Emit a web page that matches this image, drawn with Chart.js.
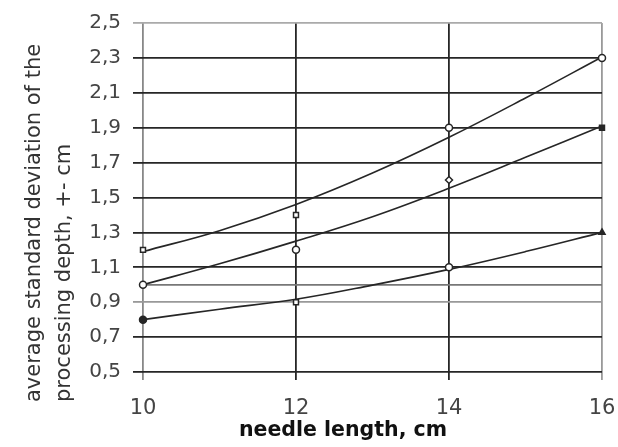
<!DOCTYPE html>
<html>
<head>
<meta charset="utf-8">
<script src="https://cdn.jsdelivr.net/npm/chart.js@4/dist/chart.umd.min.js"></script>
<style>
  html, body { margin: 0; padding: 0; background: #fff; }
  canvas { display: block; }
</style>
</head>
<body>
<canvas id="chart" width="618" height="447"></canvas>
<script>
const needleLength = [10, 12, 14, 16];

// measured points
const seriesTop = [1.2, 1.4, 1.9, 2.3];
const seriesMid = [1.0, 1.2, 1.6, 1.9];
const seriesLow = [0.8, 0.9, 1.1, 1.3];

// trend curves, every 1 cm
const trendLength = [10, 11, 12, 13, 14, 15, 16];
const trendTop = [1.19, 1.31, 1.46, 1.64, 1.845, 2.07, 2.305];
const trendMid = [1.0, 1.12, 1.25, 1.39, 1.553, 1.73, 1.91];
const trendLow = [0.8, 0.86, 0.917, 0.998, 1.088, 1.19, 1.30];

const xTicks = [10, 12, 14, 16];
const yTicks = [0.5, 0.7, 0.9, 1.1, 1.3, 1.5, 1.7, 1.9, 2.1, 2.3, 2.5];
const yExtraLine = 1.0;

const yTitle = ["average standard deviation of the", "processing depth, +- cm"];
const xTitle = "needle length, cm";

const pts = (xs, ys) => xs.map((x, i) => ({ x: x, y: ys[i] }));

const DARK = "#262626";

function markers(ys, styles, fills) {
    return {
        data: pts(needleLength, ys),
        showLine: false,
        pointStyle: styles,
        pointRadius: 3.5,
        pointBorderWidth: 1.5,
        pointBorderColor: DARK,
        pointBackgroundColor: fills,
        clip: false
    };
}

function trend(ys) {
    return {
        data: pts(trendLength, ys),
        borderColor: DARK,
        borderWidth: 1.6,
        pointRadius: 0,
        tension: 0.4,
        clip: false
    };
}

// axis titles drawn as text beside the plot
const axisTitles = {
    id: "axisTitles",
    afterDraw(chart) {
        const c = chart.ctx;
        c.save();
        c.fillStyle = "#333";
        c.font = "21px 'DejaVu Sans'";
        c.textAlign = "left";
        c.textBaseline = "alphabetic";
        c.translate(0, 402);
        c.rotate(-Math.PI / 2);
        c.fillText(yTitle[0], 0, 40);
        c.fillText(yTitle[1], 0, 70);
        c.restore();

        c.save();
        c.fillStyle = "#111";
        c.font = "bold 20.5px 'DejaVu Sans'";
        c.textAlign = "center";
        c.textBaseline = "alphabetic";
        c.fillText(xTitle, 343, 436);
        c.restore();
    }
};

function yLineColor(v) {
    if (v === 2.5) return "#aaa";
    if (v === yExtraLine) return "#777";
    if (v === 0.9) return "#999";
    return DARK;
}

function xLineColor(v) {
    if (v === 10) return "#888";
    if (v === 16) return "#999";
    return DARK;
}

new Chart(document.getElementById("chart"), {
    type: "line",
    data: {
        datasets: [
            markers(seriesTop, ["rect", "rect", "circle", "circle"], ["#fff", "#fff", "#fff", "#fff"]),
            markers(seriesMid, ["circle", "circle", "rectRot", "rect"], ["#fff", "#fff", "#fff", DARK]),
            markers(seriesLow, ["circle", "rect", "circle", "triangle"], [DARK, "#fff", "#fff", DARK]),
            trend(trendTop),
            trend(trendMid),
            trend(trendLow)
        ]
    },
    options: {
        responsive: false,
        animation: false,
        layout: { padding: { top: 23, right: 16, bottom: 0, left: 0 } },
        plugins: {
            legend: { display: false },
            tooltip: { enabled: false }
        },
        scales: {
            x: {
                type: "linear",
                min: 10,
                max: 16,
                afterBuildTicks: scale => { scale.ticks = xTicks.map(v => ({ value: v })); },
                afterFit: scale => {
                    scale.height = 75;
                    scale.paddingLeft = 0;
                    scale.paddingRight = 0;
                },
                border: { display: false },
                grid: {
                    color: ctx => xLineColor(ctx.tick.value),
                    tickColor: ctx => xLineColor(ctx.tick.value),
                    lineWidth: 1.8,
                    tickLength: 8
                },
                ticks: {
                    color: "#444",
                    font: { family: "DejaVu Sans", size: 21 },
                    padding: 16,
                    maxRotation: 0
                }
            },
            y: {
                min: 0.5,
                max: 2.5,
                afterBuildTicks: scale => {
                    scale.ticks = yTicks.concat([yExtraLine]).sort((a, b) => a - b).map(v => ({ value: v }));
                },
                afterFit: scale => {
                    scale.width = 143;
                    scale.paddingTop = 0;
                    scale.paddingBottom = 0;
                },
                border: { display: false },
                grid: {
                    color: ctx => yLineColor(ctx.tick.value),
                    tickColor: ctx => ctx.tick.value === yExtraLine ? "rgba(0,0,0,0)" : yLineColor(ctx.tick.value),
                    lineWidth: 1.8,
                    tickLength: 10
                },
                ticks: {
                    color: "#444",
                    font: { family: "DejaVu Sans", size: 20 },
                    padding: 12,
                    callback: v => v === yExtraLine ? "" : v.toFixed(1).replace(".", ",")
                }
            }
        }
    },
    plugins: [axisTitles]
});
</script>
</body>
</html>
